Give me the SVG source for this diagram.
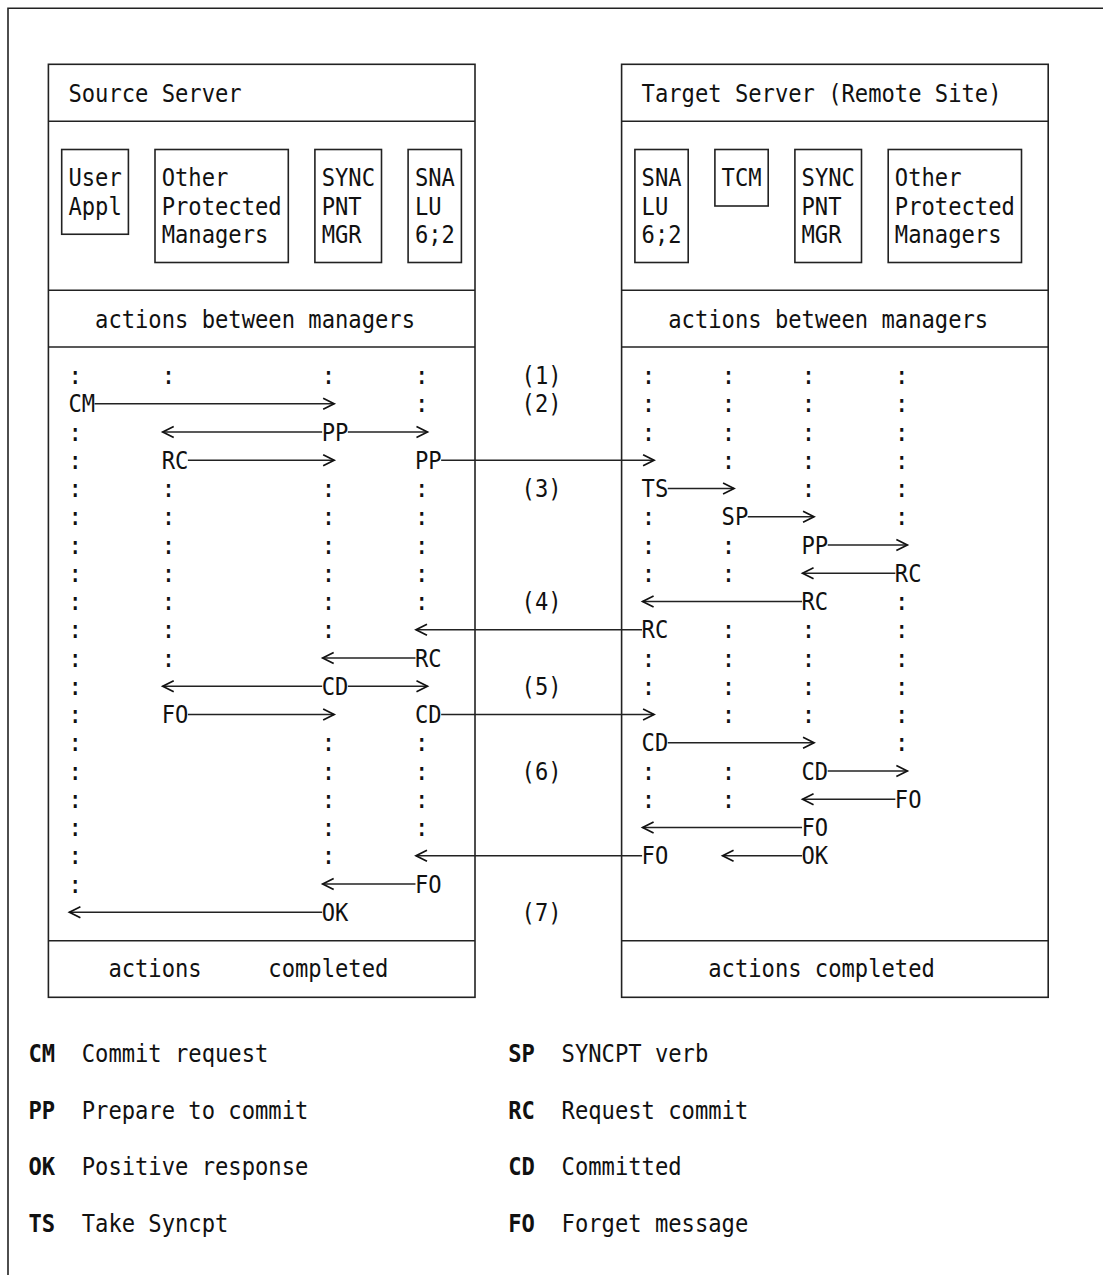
<svg xmlns="http://www.w3.org/2000/svg" width="1103" height="1275" viewBox="0 0 1103 1275">
<style>
text{font-family:"DejaVu Sans Mono","Liberation Mono",monospace;font-size:24px;fill:#111}
.b{font-weight:bold}
.box{fill:none;stroke:#222;stroke-width:1.6}
.sep{stroke:#222;stroke-width:1.6}
.c{stroke:#222;stroke-width:1.4;fill:none}
</style>
<defs>
<marker id="chev" markerUnits="userSpaceOnUse" markerWidth="14" markerHeight="14" refX="11" refY="5.5" orient="auto" overflow="visible">
<path d="M0,0 L11,5.5 L0,11" fill="none" stroke="#111" stroke-width="1.7"/>
</marker>
</defs>
<rect width="1103" height="1275" fill="#fff"/>
<path id="frame" d="M8,1275 V8.3 H1103" fill="none" stroke="#222" stroke-width="1.6"/>

<g id="source-server">
<rect class="box" x="48.4" y="64.3" width="426.6" height="933"/>
<line class="sep" x1="48.4" y1="121.3" x2="475" y2="121.3"/>
<line class="sep" x1="48.4" y1="290.3" x2="475" y2="290.3"/>
<line class="sep" x1="48.4" y1="347" x2="475" y2="347"/>
<line class="sep" x1="48.4" y1="940.7" x2="475" y2="940.7"/>
<text x="68.4" y="101.5" textLength="173.29" lengthAdjust="spacingAndGlyphs">Source Server</text>
<text x="95.06" y="327.5" textLength="319.92" lengthAdjust="spacingAndGlyphs">actions between managers</text>
<text x="108.39" y="977.25" textLength="93.31" lengthAdjust="spacingAndGlyphs">actions</text>
<text x="268.35" y="977.25" textLength="119.97" lengthAdjust="spacingAndGlyphs">completed</text>
</g>
<g id="src-user-appl">
<rect class="box" x="61.7" y="149.5" width="66.7" height="84.75"/>
<text x="68.4" y="186.25" textLength="53.32" lengthAdjust="spacingAndGlyphs">User</text>
<text x="68.4" y="214.5" textLength="53.32" lengthAdjust="spacingAndGlyphs">Appl</text>
</g>
<g id="src-other-managers">
<rect class="box" x="155" y="149.5" width="133.3" height="113"/>
<text x="161.71" y="186.25" textLength="66.65" lengthAdjust="spacingAndGlyphs">Other</text>
<text x="161.71" y="214.5" textLength="119.97" lengthAdjust="spacingAndGlyphs">Protected</text>
<text x="161.71" y="242.75" textLength="106.64" lengthAdjust="spacingAndGlyphs">Managers</text>
</g>
<g id="src-syncpnt-mgr">
<rect class="box" x="314.9" y="149.5" width="66.6" height="113"/>
<text x="321.67" y="186.25" textLength="53.32" lengthAdjust="spacingAndGlyphs">SYNC</text>
<text x="321.67" y="214.5" textLength="39.99" lengthAdjust="spacingAndGlyphs">PNT</text>
<text x="321.67" y="242.75" textLength="39.99" lengthAdjust="spacingAndGlyphs">MGR</text>
</g>
<g id="src-sna-lu">
<rect class="box" x="408.1" y="149.5" width="53.3" height="113"/>
<text x="414.98" y="186.25" textLength="39.99" lengthAdjust="spacingAndGlyphs">SNA</text>
<text x="414.98" y="214.5" textLength="26.66" lengthAdjust="spacingAndGlyphs">LU</text>
<text x="414.98" y="242.75" textLength="39.99" lengthAdjust="spacingAndGlyphs">6;2</text>
</g>

<g id="target-server">
<rect class="box" x="621.6" y="64.3" width="426.6" height="933"/>
<line class="sep" x1="621.6" y1="121.3" x2="1048.2" y2="121.3"/>
<line class="sep" x1="621.6" y1="290.3" x2="1048.2" y2="290.3"/>
<line class="sep" x1="621.6" y1="347" x2="1048.2" y2="347"/>
<line class="sep" x1="621.6" y1="940.7" x2="1048.2" y2="940.7"/>
<text x="641.59" y="101.5" textLength="359.91" lengthAdjust="spacingAndGlyphs">Target Server (Remote Site)</text>
<text x="668.25" y="327.5" textLength="319.92" lengthAdjust="spacingAndGlyphs">actions between managers</text>
<text x="708.24" y="977.25" textLength="226.61" lengthAdjust="spacingAndGlyphs">actions completed</text>
</g>
<g id="tgt-sna-lu">
<rect class="box" x="634.9" y="149.5" width="53.3" height="113"/>
<text x="641.59" y="186.25" textLength="39.99" lengthAdjust="spacingAndGlyphs">SNA</text>
<text x="641.59" y="214.5" textLength="26.66" lengthAdjust="spacingAndGlyphs">LU</text>
<text x="641.59" y="242.75" textLength="39.99" lengthAdjust="spacingAndGlyphs">6;2</text>
</g>
<g id="tgt-tcm">
<rect class="box" x="714.9" y="149.5" width="53.3" height="56.5"/>
<text x="721.57" y="186.25" textLength="39.99" lengthAdjust="spacingAndGlyphs">TCM</text>
</g>
<g id="tgt-syncpnt-mgr">
<rect class="box" x="794.9" y="149.5" width="66.6" height="113"/>
<text x="801.55" y="186.25" textLength="53.32" lengthAdjust="spacingAndGlyphs">SYNC</text>
<text x="801.55" y="214.5" textLength="39.99" lengthAdjust="spacingAndGlyphs">PNT</text>
<text x="801.55" y="242.75" textLength="39.99" lengthAdjust="spacingAndGlyphs">MGR</text>
</g>
<g id="tgt-other-managers">
<rect class="box" x="888.2" y="149.5" width="133.3" height="113"/>
<text x="894.86" y="186.25" textLength="66.65" lengthAdjust="spacingAndGlyphs">Other</text>
<text x="894.86" y="214.5" textLength="119.97" lengthAdjust="spacingAndGlyphs">Protected</text>
<text x="894.86" y="242.75" textLength="106.64" lengthAdjust="spacingAndGlyphs">Managers</text>
</g>

<g id="lifelines">
<text x="68" y="384">:</text><text x="161.3" y="384">:</text><text x="321.3" y="384">:</text><text x="414.6" y="384">:</text><text x="641.2" y="384">:</text><text x="721.2" y="384">:</text><text x="801.2" y="384">:</text><text x="894.5" y="384">:</text>
<text x="414.6" y="412.25">:</text><text x="641.2" y="412.25">:</text><text x="721.2" y="412.25">:</text><text x="801.2" y="412.25">:</text><text x="894.5" y="412.25">:</text>
<text x="68" y="440.5">:</text><text x="641.2" y="440.5">:</text><text x="721.2" y="440.5">:</text><text x="801.2" y="440.5">:</text><text x="894.5" y="440.5">:</text>
<text x="68" y="468.75">:</text><text x="721.2" y="468.75">:</text><text x="801.2" y="468.75">:</text><text x="894.5" y="468.75">:</text>
<text x="68" y="497">:</text><text x="161.3" y="497">:</text><text x="321.3" y="497">:</text><text x="414.6" y="497">:</text><text x="801.2" y="497">:</text><text x="894.5" y="497">:</text>
<text x="68" y="525.25">:</text><text x="161.3" y="525.25">:</text><text x="321.3" y="525.25">:</text><text x="414.6" y="525.25">:</text><text x="641.2" y="525.25">:</text><text x="894.5" y="525.25">:</text>
<text x="68" y="553.5">:</text><text x="161.3" y="553.5">:</text><text x="321.3" y="553.5">:</text><text x="414.6" y="553.5">:</text><text x="641.2" y="553.5">:</text><text x="721.2" y="553.5">:</text>
<text x="68" y="581.75">:</text><text x="161.3" y="581.75">:</text><text x="321.3" y="581.75">:</text><text x="414.6" y="581.75">:</text><text x="641.2" y="581.75">:</text><text x="721.2" y="581.75">:</text>
<text x="68" y="610">:</text><text x="161.3" y="610">:</text><text x="321.3" y="610">:</text><text x="414.6" y="610">:</text><text x="894.5" y="610">:</text>
<text x="68" y="638.25">:</text><text x="161.3" y="638.25">:</text><text x="321.3" y="638.25">:</text><text x="721.2" y="638.25">:</text><text x="801.2" y="638.25">:</text><text x="894.5" y="638.25">:</text>
<text x="68" y="666.5">:</text><text x="161.3" y="666.5">:</text><text x="641.2" y="666.5">:</text><text x="721.2" y="666.5">:</text><text x="801.2" y="666.5">:</text><text x="894.5" y="666.5">:</text>
<text x="68" y="694.75">:</text><text x="641.2" y="694.75">:</text><text x="721.2" y="694.75">:</text><text x="801.2" y="694.75">:</text><text x="894.5" y="694.75">:</text>
<text x="68" y="723">:</text><text x="721.2" y="723">:</text><text x="801.2" y="723">:</text><text x="894.5" y="723">:</text>
<text x="68" y="751.25">:</text><text x="321.3" y="751.25">:</text><text x="414.6" y="751.25">:</text><text x="894.5" y="751.25">:</text>
<text x="68" y="779.5">:</text><text x="321.3" y="779.5">:</text><text x="414.6" y="779.5">:</text><text x="641.2" y="779.5">:</text><text x="721.2" y="779.5">:</text>
<text x="68" y="807.75">:</text><text x="321.3" y="807.75">:</text><text x="414.6" y="807.75">:</text><text x="641.2" y="807.75">:</text><text x="721.2" y="807.75">:</text>
<text x="68" y="836">:</text><text x="321.3" y="836">:</text><text x="414.6" y="836">:</text>
<text x="68" y="864.25">:</text><text x="321.3" y="864.25">:</text>
<text x="68" y="892.5">:</text>
</g>

<g id="steps">
<text x="521.62" y="384" textLength="39.99" lengthAdjust="spacingAndGlyphs">(1)</text>
<text x="521.62" y="412.25" textLength="39.99" lengthAdjust="spacingAndGlyphs">(2)</text>
<text x="521.62" y="497" textLength="39.99" lengthAdjust="spacingAndGlyphs">(3)</text>
<text x="521.62" y="610" textLength="39.99" lengthAdjust="spacingAndGlyphs">(4)</text>
<text x="521.62" y="694.75" textLength="39.99" lengthAdjust="spacingAndGlyphs">(5)</text>
<text x="521.62" y="779.5" textLength="39.99" lengthAdjust="spacingAndGlyphs">(6)</text>
<text x="521.62" y="920.75" textLength="39.99" lengthAdjust="spacingAndGlyphs">(7)</text>
</g>

<g id="message-labels">
<text x="68.4" y="412.25" textLength="26.66" lengthAdjust="spacingAndGlyphs">CM</text>
<text x="321.67" y="440.5" textLength="26.66" lengthAdjust="spacingAndGlyphs">PP</text>
<text x="161.71" y="468.75" textLength="26.66" lengthAdjust="spacingAndGlyphs">RC</text>
<text x="414.98" y="468.75" textLength="26.66" lengthAdjust="spacingAndGlyphs">PP</text>
<text x="641.59" y="497" textLength="26.66" lengthAdjust="spacingAndGlyphs">TS</text>
<text x="721.57" y="525.25" textLength="26.66" lengthAdjust="spacingAndGlyphs">SP</text>
<text x="801.55" y="553.5" textLength="26.66" lengthAdjust="spacingAndGlyphs">PP</text>
<text x="894.86" y="581.75" textLength="26.66" lengthAdjust="spacingAndGlyphs">RC</text>
<text x="801.55" y="610" textLength="26.66" lengthAdjust="spacingAndGlyphs">RC</text>
<text x="641.59" y="638.25" textLength="26.66" lengthAdjust="spacingAndGlyphs">RC</text>
<text x="414.98" y="666.5" textLength="26.66" lengthAdjust="spacingAndGlyphs">RC</text>
<text x="321.67" y="694.75" textLength="26.66" lengthAdjust="spacingAndGlyphs">CD</text>
<text x="161.71" y="723" textLength="26.66" lengthAdjust="spacingAndGlyphs">FO</text>
<text x="414.98" y="723" textLength="26.66" lengthAdjust="spacingAndGlyphs">CD</text>
<text x="641.59" y="751.25" textLength="26.66" lengthAdjust="spacingAndGlyphs">CD</text>
<text x="801.55" y="779.5" textLength="26.66" lengthAdjust="spacingAndGlyphs">CD</text>
<text x="894.86" y="807.75" textLength="26.66" lengthAdjust="spacingAndGlyphs">FO</text>
<text x="801.55" y="836" textLength="26.66" lengthAdjust="spacingAndGlyphs">FO</text>
<text x="641.59" y="864.25" textLength="26.66" lengthAdjust="spacingAndGlyphs">FO</text>
<text x="801.55" y="864.25" textLength="26.66" lengthAdjust="spacingAndGlyphs">OK</text>
<text x="414.98" y="892.5" textLength="26.66" lengthAdjust="spacingAndGlyphs">FO</text>
<text x="321.67" y="920.75" textLength="26.66" lengthAdjust="spacingAndGlyphs">OK</text>
</g>

<g id="connectors" class="c" marker-end="url(#chev)">
<line x1="94.56" y1="403.75" x2="334.17" y2="403.75"/>
<line x1="322.17" y1="432" x2="162.71" y2="432"/>
<line x1="347.83" y1="432" x2="427.48" y2="432"/>
<line x1="187.87" y1="460.25" x2="334.17" y2="460.25"/>
<line x1="441.14" y1="460.25" x2="654.09" y2="460.25"/>
<line x1="667.75" y1="488.5" x2="734.07" y2="488.5"/>
<line x1="747.73" y1="516.75" x2="814.05" y2="516.75"/>
<line x1="827.71" y1="545" x2="907.36" y2="545"/>
<line x1="895.36" y1="573.25" x2="802.55" y2="573.25"/>
<line x1="802.05" y1="601.5" x2="642.59" y2="601.5"/>
<line x1="642.09" y1="629.75" x2="415.98" y2="629.75"/>
<line x1="415.48" y1="658" x2="322.67" y2="658"/>
<line x1="322.17" y1="686.25" x2="162.71" y2="686.25"/>
<line x1="347.83" y1="686.25" x2="427.48" y2="686.25"/>
<line x1="187.87" y1="714.5" x2="334.17" y2="714.5"/>
<line x1="441.14" y1="714.5" x2="654.09" y2="714.5"/>
<line x1="667.75" y1="742.75" x2="814.05" y2="742.75"/>
<line x1="827.71" y1="771" x2="907.36" y2="771"/>
<line x1="895.36" y1="799.25" x2="802.55" y2="799.25"/>
<line x1="802.05" y1="827.5" x2="642.59" y2="827.5"/>
<line x1="642.09" y1="855.75" x2="415.98" y2="855.75"/>
<line x1="802.05" y1="855.75" x2="722.57" y2="855.75"/>
<line x1="415.48" y1="884" x2="322.67" y2="884"/>
<line x1="322.17" y1="912.25" x2="69.4" y2="912.25"/>
</g>

<g id="legend">
<text class="b" x="28.41" y="1062" textLength="26.66" lengthAdjust="spacingAndGlyphs">CM</text><text x="81.73" y="1062" textLength="186.62" lengthAdjust="spacingAndGlyphs">Commit request</text>
<text class="b" x="28.41" y="1118.5" textLength="26.66" lengthAdjust="spacingAndGlyphs">PP</text><text x="81.73" y="1118.5" textLength="226.61" lengthAdjust="spacingAndGlyphs">Prepare to commit</text>
<text class="b" x="28.41" y="1175" textLength="26.66" lengthAdjust="spacingAndGlyphs">OK</text><text x="81.73" y="1175" textLength="226.61" lengthAdjust="spacingAndGlyphs">Positive response</text>
<text class="b" x="28.41" y="1231.5" textLength="26.66" lengthAdjust="spacingAndGlyphs">TS</text><text x="81.73" y="1231.5" textLength="146.63" lengthAdjust="spacingAndGlyphs">Take Syncpt</text>
<text class="b" x="508.29" y="1062" textLength="26.66" lengthAdjust="spacingAndGlyphs">SP</text><text x="561.61" y="1062" textLength="146.63" lengthAdjust="spacingAndGlyphs">SYNCPT verb</text>
<text class="b" x="508.29" y="1118.5" textLength="26.66" lengthAdjust="spacingAndGlyphs">RC</text><text x="561.61" y="1118.5" textLength="186.62" lengthAdjust="spacingAndGlyphs">Request commit</text>
<text class="b" x="508.29" y="1175" textLength="26.66" lengthAdjust="spacingAndGlyphs">CD</text><text x="561.61" y="1175" textLength="119.97" lengthAdjust="spacingAndGlyphs">Committed</text>
<text class="b" x="508.29" y="1231.5" textLength="26.66" lengthAdjust="spacingAndGlyphs">FO</text><text x="561.61" y="1231.5" textLength="186.62" lengthAdjust="spacingAndGlyphs">Forget message</text>
</g>
</svg>
